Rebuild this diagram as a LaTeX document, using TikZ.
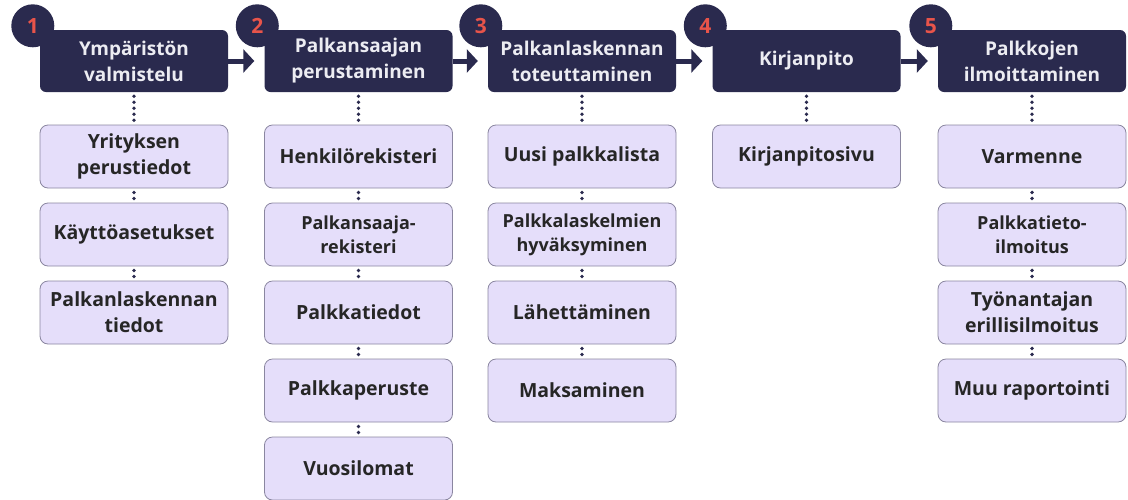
\documentclass[tikz,border=0pt]{standalone}
\usepackage{fontspec}
\setmainfont{Open Sans}[UprightFont=* Bold]
\usetikzlibrary{arrows.meta,positioning}
\definecolor{navy}{RGB}{42,42,78}
\definecolor{lilac}{RGB}{229,222,250}
\definecolor{lilacline}{RGB}{138,134,160}
\definecolor{coral}{RGB}{232,84,74}
\definecolor{paper}{RGB}{236,236,242}
\tikzset{
  phase/.style={fill=navy,rounded corners=6pt,minimum width=188pt,minimum height=62pt,
    text=paper,align=center,font=\fontsize{19}{26}\selectfont,inner sep=0pt},
  task/.style={fill=lilac,draw=lilacline,line width=0.8pt,rounded corners=8pt,
    minimum width=188pt,minimum height=63pt,align=center,text=black!85,
    font=\fontsize{19.5}{26}\selectfont,inner sep=0pt},
  small/.style={font=\fontsize{18}{24}\selectfont},
  badge/.style={circle,fill=navy,minimum size=43pt,inner sep=0pt,text=coral,
    font=\fontsize{21}{21}\selectfont},
  dots/.style={draw=navy,line width=3.8pt,line cap=round,dash pattern=on 0pt off 6pt,
    shorten <=4pt,shorten >=3pt},
  flow/.style={draw=navy,line width=5pt,-{Triangle[width=23pt,length=11pt]},shorten >=10pt}
}
\begin{document}
\begin{tikzpicture}[x=1pt,y=1pt,yscale=-1]
\useasboundingbox (0,0) rectangle (1128,499);

% phases
\node[phase] (ymp) at (134,61) {Ympäristön\\valmistelu};
\node[phase] (pak) at (358.5,61) {Palkansaajan\\perustaminen};
\node[phase] (tot) at (582,61) {Palkanlaskennan\\toteuttaminen};
\node[phase] (kir) at (806.5,61) {Kirjanpito};
\node[phase] (ilm) at (1032,61) {Palkkojen\\ilmoittaminen};

% numbers
\node[badge] (n1) at ([shift={(-7,-4)}]ymp.north west) {1};
\node[badge] (n2) at ([shift={(-7,-4)}]pak.north west) {2};
\node[badge] (n3) at ([shift={(-7,-4)}]tot.north west) {3};
\node[badge] (n4) at ([shift={(-7,-4)}]kir.north west) {4};
\node[badge] (n5) at ([shift={(-7,-4)}]ilm.north west) {5};

% arrows between phases
\draw[flow] (ymp) -- (pak);
\draw[flow] (pak) -- (tot);
\draw[flow] (tot) -- (kir);
\draw[flow] (kir) -- (ilm);

% column 1
\node[task] (yri) at (134,156.5) {Yrityksen\\perustiedot};
\node[task] (kay) at (134,234.5) {Käyttöasetukset};
\node[task] (pti) at (134,312.5) {Palkanlaskennan\\tiedot};

% column 2
\node[task] (hen) at (358.5,156.5) {Henkilörekisteri};
\node[task,small] (prk) at (358.5,234.5) {Palkansaaja-\\rekisteri};
\node[task] (ptd) at (358.5,312.5) {Palkkatiedot};
\node[task] (ppe) at (358.5,390.5) {Palkkaperuste};
\node[task] (vuo) at (358.5,468.5) {Vuosilomat};

% column 3
\node[task] (uus) at (582,156.5) {Uusi palkkalista};
\node[task,small] (hyv) at (582,234.5) {Palkkalaskelmien\\hyväksyminen};
\node[task] (lah) at (582,312.5) {Lähettäminen};
\node[task] (mak) at (582,390.5) {Maksaminen};

% column 4
\node[task] (kps) at (806.5,156.5) {Kirjanpitosivu};

% column 5
\node[task] (var) at (1032,156.5) {Varmenne};
\node[task,small] (pti2) at (1032,234.5) {Palkkatieto-\\ilmoitus};
\node[task] (tye) at (1032,312.5) {Työnantajan\\erillisilmoitus};
\node[task] (muu) at (1032,390.5) {Muu raportointi};

% dotted links
\draw[dots] (ymp) -- (yri);
\draw[dots] (yri) -- (kay);
\draw[dots] (kay) -- (pti);
\draw[dots] (pak) -- (hen);
\draw[dots] (hen) -- (prk);
\draw[dots] (prk) -- (ptd);
\draw[dots] (ptd) -- (ppe);
\draw[dots] (ppe) -- (vuo);
\draw[dots] (tot) -- (uus);
\draw[dots] (uus) -- (hyv);
\draw[dots] (hyv) -- (lah);
\draw[dots] (lah) -- (mak);
\draw[dots] (kir) -- (kps);
\draw[dots] (ilm) -- (var);
\draw[dots] (var) -- (pti2);
\draw[dots] (pti2) -- (tye);
\draw[dots] (tye) -- (muu);

\end{tikzpicture}
\end{document}
